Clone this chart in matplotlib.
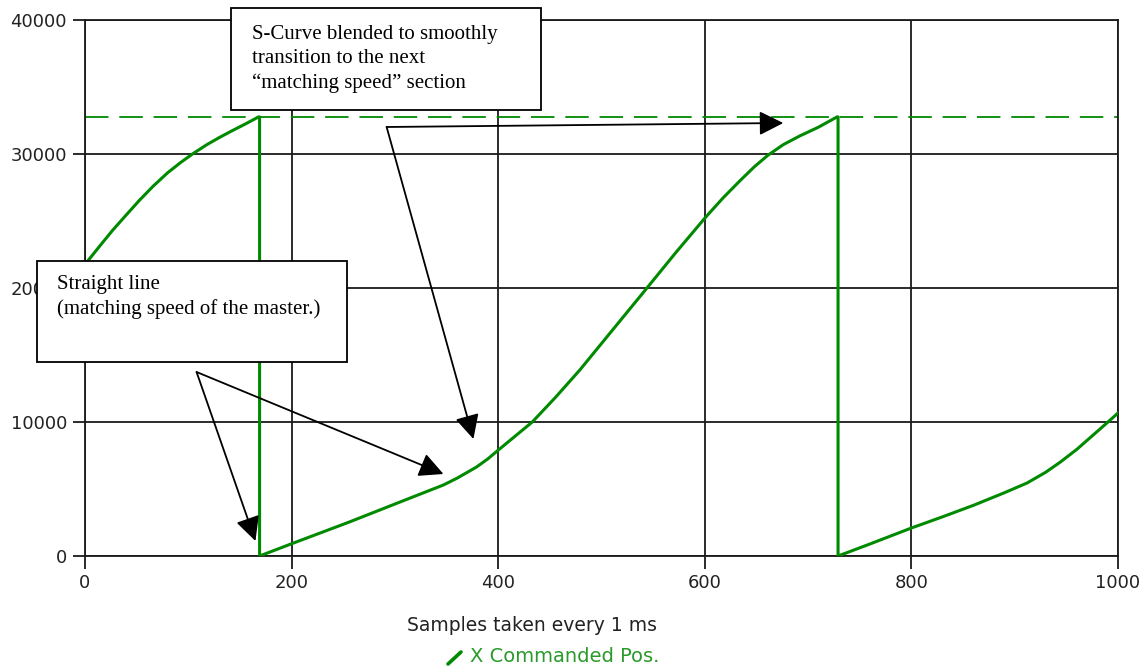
import matplotlib.pyplot as plt
from matplotlib.patches import Rectangle
from matplotlib.lines import Line2D

# X commanded position (samples, counts)
samples = [0, 15, 27, 40, 53, 66, 80, 92, 104, 118, 131, 143, 155, 168, 169,
           169, 200, 256, 305, 347, 360, 379, 390, 400, 411, 422, 433, 455, 479,
           510, 544, 572, 601, 618, 634, 648, 661, 676, 692, 710, 728, 729,
           729, 760, 800, 830, 860, 890, 912, 930, 944, 960, 976, 990, 1000]
position = [21760, 23200, 24330, 25460, 26570, 27600, 28600, 29330, 30000, 30700,
            31270, 31760, 32230, 32767, 32767,
            0, 915, 2540, 4030, 5300, 5800, 6640, 7250, 7900, 8600, 9300, 10000,
            11800, 13880, 16800, 20000, 22650, 25300, 26750, 28000, 29050, 29900,
            30700, 31350, 32000, 32767, 32767,
            0, 900, 2090, 2920, 3780, 4720, 5450, 6250, 7000, 7950, 9030, 9980, 10670]
max_pos = 32767

x_ticks = [0, 200, 400, 600, 800, 1000]
y_ticks = [0, 10000, 20000, 30000, 40000]

green = '#008a00'
W, H = 1146, 671

fig = plt.figure(figsize=(W / 100, H / 100), dpi=100)
ax = fig.add_axes([85 / W, 1 - 556 / H, (1118 - 85) / W, (556 - 20) / H])

ax.plot(samples, position, color=green, lw=2.2, solid_joinstyle='round', zorder=3)
ax.axhline(max_pos, color=green, lw=1.3, dashes=(13, 6), zorder=2)

ax.set_xlim(0, 1000)
ax.set_ylim(0, 40000)
ax.set_xticks(x_ticks)
ax.set_yticks(y_ticks)
ax.grid(True, color='#1a1a1a', lw=1.3)
for s in ax.spines.values():
    s.set_color('#1a1a1a')
    s.set_linewidth(1.3)
ax.tick_params(length=9, width=1.3, color='#1a1a1a', labelsize=13,
               labelcolor='#222222', pad=4)
ax.set_xlabel('Samples taken every 1 ms', fontsize=13.5, color='#222222', labelpad=17)
ax.xaxis.label.set_x((532 - 85) / (1118 - 85))

# legend entry under the x label
fig.add_artist(Line2D([448 / W, 461 / W], [1 - 664 / H, 1 - 652 / H],
                      color=green, lw=2.6, solid_capstyle='round'))
fig.text(470 / W, 1 - 657 / H, 'X Commanded Pos.', color='#2a9a2a',
         fontsize=14, va='center', ha='left')

# annotation boxes (the lower one hides part of the 20000 label, as in the original)
serif = 'Liberation Serif'
fig.add_artist(Rectangle((231 / W, 1 - 110 / H), (541 - 231) / W, (110 - 8) / H,
                         transform=fig.transFigure, facecolor='white',
                         edgecolor='black', lw=1.3, zorder=5))
fig.text(252 / W, 1 - 25 / H,
         'S-Curve blended to smoothly\ntransition to the next\n\u201cmatching speed\u201d section',
         family=serif, fontsize=15, va='top', ha='left', linespacing=1.36, zorder=6)

fig.add_artist(Rectangle((37 / W, 1 - 362 / H), (347 - 37) / W, (362 - 261) / H,
                         transform=fig.transFigure, facecolor='white',
                         edgecolor='black', lw=1.3, zorder=5))
fig.text(57 / W, 1 - 275 / H,
         'Straight line\n(matching speed of the master.)',
         family=serif, fontsize=15, va='top', ha='left', linespacing=1.36, zorder=6)

arrow = dict(arrowstyle='-|>,head_length=0.4,head_width=0.2', color='black',
             lw=1.3, mutation_scale=37, shrinkA=0, shrinkB=0)
for start, tip in [((292, 32015), (676, 32313)),
                   ((292, 32015), (376, 8731)),
                   ((108, 13731), (165, 1119)),
                   ((108, 13731), (347, 6119))]:
    ax.annotate('', xy=tip, xytext=start, arrowprops=arrow,
                annotation_clip=False, zorder=7)

fig.savefig('out.png', dpi=100)
